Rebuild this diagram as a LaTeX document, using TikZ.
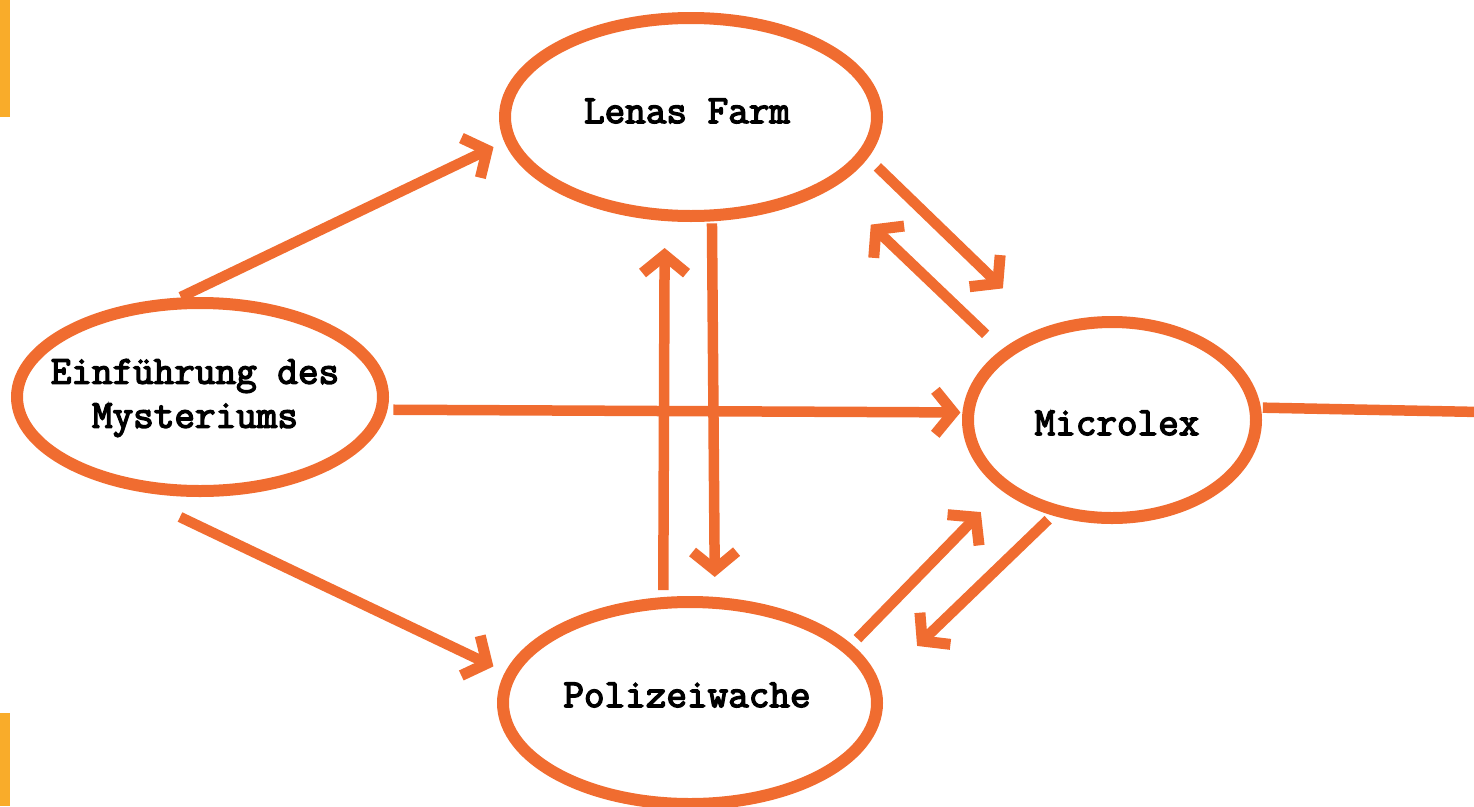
\documentclass[tikz,border=0pt]{standalone}
\usepackage{fontspec}
\newfontfamily\tw{Latin Modern Mono}[FakeBold=3.5]
\usetikzlibrary{arrows.meta,shapes.geometric}
\definecolor{brush}{RGB}{240,108,48}
\definecolor{barcol}{RGB}{249,172,42}
\begin{document}
\begin{tikzpicture}[x=1pt,y=-1pt,
  place/.style={draw=brush, line width=12pt, ellipse, inner sep=0pt, outer sep=0pt},
  lbl/.style={font=\tw\fontsize{40}{44}\selectfont, align=center, inner sep=0pt},
  arr/.style={draw=brush, line width=10.5pt, -{Straight Barb[length=18pt,width=44pt,line width=11pt]}},
  link/.style={draw=brush, line width=10.5pt}]
\useasboundingbox (0,0) rectangle (1474,806);
\fill[barcol] (0,0) rectangle (10,117);
\fill[barcol] (0,713) rectangle (10,806);

\node[place, minimum width=366pt, minimum height=188pt] (ein) at (200,397) {};
\node[place, minimum width=372pt, minimum height=198pt] (lenas) at (691,117) {};
\node[place, minimum width=288pt, minimum height=196pt] (micro) at (1112,420) {};
\node[place, minimum width=374pt, minimum height=202pt] (polizei) at (690,703) {};
\coordinate (exit) at (1480,412);

\node[lbl] (einT) at (195,398) {Einführung des\\Mysteriums};
\node[lbl] (lenasT) at (687,111) {Lenas Farm};
\node[lbl] (microT) at (1117,423) {Microlex};
\node[lbl] (polizeiT) at (687,695) {Polizeiwache};

\draw[arr, shorten <=18pt, shorten >=18pt] (ein.111) -- (lenas.-173);
\draw[arr, shorten >=19pt] ([xshift=-20pt,yshift=-26pt]ein.south) -- (polizei.171);
\draw[arr, shorten <=12pt, shorten >=8pt] (ein.-4) -- (micro.177);
\draw[arr, shorten <=8pt, shorten >=26pt] (lenas.-78) -- (polizei.76);
\draw[arr, shorten <=13pt, shorten >=33pt] (polizei.105) -- (lenas.-105);
\draw[arr, shorten <=19pt, shorten >=63pt] (lenas.-12) -- (micro.126);
\draw[arr, shorten <=28pt, shorten >=59pt] (micro.148) -- (lenas.-26);
\draw[arr, shorten <=14pt, shorten >=36pt] (polizei.19) -- (micro.-148);
\draw[arr, shorten <=13pt, shorten >=59pt] (micro.-121) -- (polizei.5);
\draw[link, shorten <=8pt] (micro.5) -- (exit);
\end{tikzpicture}
\end{document}
